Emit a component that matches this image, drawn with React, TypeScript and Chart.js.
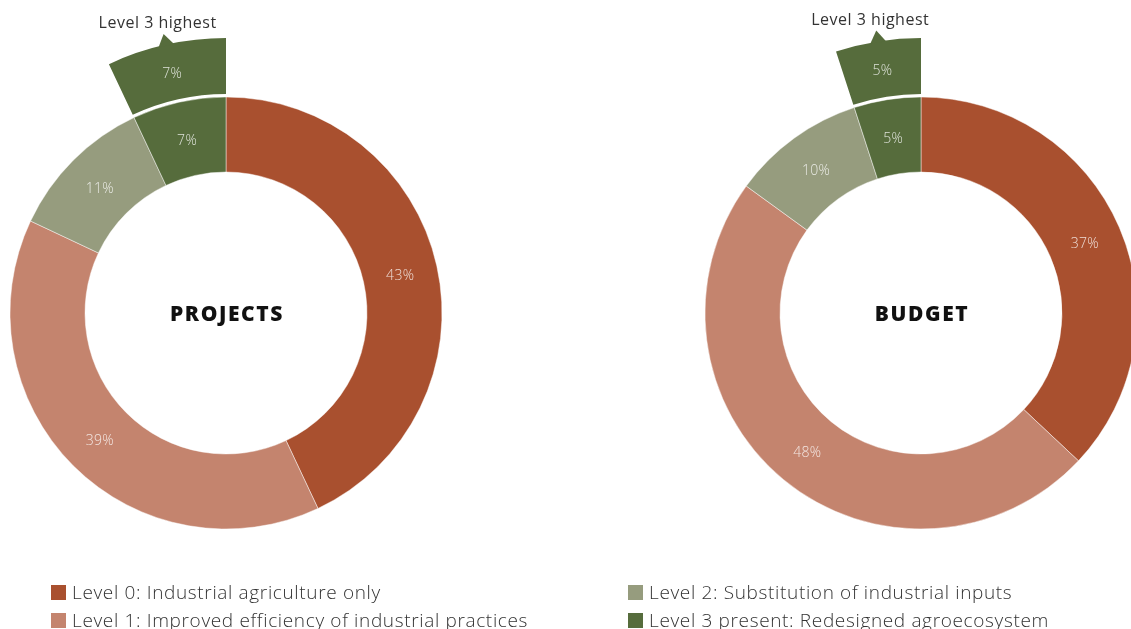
import React, { useEffect, useRef } from "react";
import { Chart, registerables } from "chart.js";

Chart.register(...registerables);

// Share of items per agroecology level, in percent
const levelLabels = [
  "Level 0: Industrial agriculture only",
  "Level 1: Improved efficiency of industrial practices",
  "Level 2: Substitution of industrial inputs",
  "Level 3 present: Redesigned agroecosystem",
];
const projectShares = [43, 39, 11, 7];
const budgetShares = [37, 48, 10, 5];
const projectsHighest = 7;
const budgetHighest = 5;
const highestLabel = "Level 3 highest";
const chartTitles = ["PROJECTS", "BUDGET"];

const levelColors = ["#A9502F", "#C4846E", "#969C7E", "#566C3C"];
const FONT = "'Open Sans', sans-serif";
const W = 1131;
const H = 629;
const OUTER = 275;
const HOLE = 141;

// Writes the percentage in the middle of each visible slice, the title in the
// hole and the pointer + caption on top of the outer "highest" wedge.
const decorPlugin = {
  id: "decor",
  afterDatasetsDraw(chart: any) {
    const ctx = chart.ctx;
    ctx.save();
    ctx.textAlign = "center";
    ctx.textBaseline = "middle";
    [0, 2].forEach((di) => {
      const meta = chart.getDatasetMeta(di);
      const ds = chart.data.datasets[di];
      meta.data.forEach((arc: any, i: number) => {
        const bg = Array.isArray(ds.backgroundColor) ? ds.backgroundColor[i] : ds.backgroundColor;
        if (bg === "rgba(0,0,0,0)") return;
        const p = arc.getCenterPoint();
        ctx.fillStyle = "rgba(255,255,255,0.8)";
        ctx.font = `300 14px ${FONT}`;
        ctx.letterSpacing = "0.3px";
        ctx.fillText(`${ds.data[i]}%`, p.x, p.y + 2);
      });
    });

    // pointer tab and caption above the highest-level wedge
    const arc: any = chart.getDatasetMeta(0).data[1];
    const mid = (arc.startAngle + arc.endAngle) / 2;
    const r = arc.outerRadius;
    const half = 8 / r;
    const pt = (a: number, rr: number) => [arc.x + Math.cos(a) * rr, arc.y + Math.sin(a) * rr];
    const [x1, y1] = pt(mid - half, r - 1);
    const [x2, y2] = pt(mid + half, r - 1);
    const [ax, ay] = pt(mid, r + 11);
    ctx.fillStyle = levelColors[3];
    ctx.beginPath();
    ctx.moveTo(x1, y1);
    ctx.lineTo(ax, ay);
    ctx.lineTo(x2, y2);
    ctx.closePath();
    ctx.fill();
    ctx.fillStyle = "#333";
    ctx.font = `400 16px ${FONT}`;
    ctx.letterSpacing = "0.5px";
    ctx.fillText(chart.options.plugins.decor.caption, ax - 6, ay - 10);

    // title in the hole
    const ca = chart.chartArea;
    ctx.fillStyle = "#111";
    ctx.font = `800 21px ${FONT}`;
    ctx.letterSpacing = "1.6px";
    ctx.fillText(chart.options.plugins.decor.title, (ca.left + ca.right) / 2 + 1, (ca.top + ca.bottom) / 2 + 2);
    ctx.restore();
  },
};

function makeConfig(title: string, shares: number[], highest: number, padLeft: number, padRight: number): any {
  return {
    type: "doughnut",
    data: {
      labels: levelLabels,
      datasets: [
        {
          data: [100 - highest, highest],
          backgroundColor: ["rgba(0,0,0,0)", levelColors[3]],
          borderWidth: 0,
          weight: 56,
        },
        {
          data: shares,
          backgroundColor: "rgba(0,0,0,0)",
          borderWidth: 0,
          weight: 3,
        },
        {
          data: shares,
          backgroundColor: levelColors,
          borderColor: "rgba(255,255,255,0.45)",
          borderWidth: 1,
          weight: 75,
        },
      ],
    },
    options: {
      responsive: false,
      maintainAspectRatio: false,
      animation: false,
      events: [],
      radius: OUTER,
      cutout: `${(HOLE / OUTER) * 100}%`,
      rotation: 0,
      layout: { padding: { left: padLeft, right: padRight, top: 0, bottom: 3 } },
      plugins: {
        legend: { display: false },
        tooltip: { enabled: false },
        decor: { title, caption: highestLabel },
      },
    },
    plugins: [decorPlugin],
  };
}

function Donut({ config }: { config: any }) {
  const ref = useRef<HTMLCanvasElement>(null);
  useEffect(() => {
    const chart = new Chart(ref.current as HTMLCanvasElement, config);
    return () => chart.destroy();
  }, [config]);
  return (
    <canvas
      ref={ref}
      width={W}
      height={H}
      style={{ position: "absolute", left: 0, top: 0, width: W, height: H }}
    />
  );
}

const leftConfig = makeConfig(chartTitles[0], projectShares, projectsHighest, 0, W - 452);
const rightConfig = makeConfig(chartTitles[1], budgetShares, budgetHighest, 711, 0);

const legendPlaces = [
  { left: 51, top: 585 },
  { left: 51, top: 613 },
  { left: 628, top: 585 },
  { left: 628, top: 613 },
];

export default function App() {
  return (
    <div
      style={{
        position: "absolute",
        left: 0,
        top: 0,
        width: W,
        height: H,
        overflow: "hidden",
        background: "#fff",
        fontFamily: FONT,
      }}
    >
      <Donut config={leftConfig} />
      <Donut config={rightConfig} />
      {levelLabels.map((label, i) => (
        <div
          key={label}
          style={{
            position: "absolute",
            left: legendPlaces[i].left,
            top: legendPlaces[i].top,
            display: "flex",
            alignItems: "center",
            height: 15,
            whiteSpace: "nowrap",
          }}
        >
          <span style={{ width: 15, height: 15, background: levelColors[i], marginRight: 6, display: "inline-block" }} />
          <span style={{ fontSize: 19, color: "#333", fontWeight: 300, lineHeight: "15px", letterSpacing: "0.65px" }}>
            {label}
          </span>
        </div>
      ))}
    </div>
  );
}
